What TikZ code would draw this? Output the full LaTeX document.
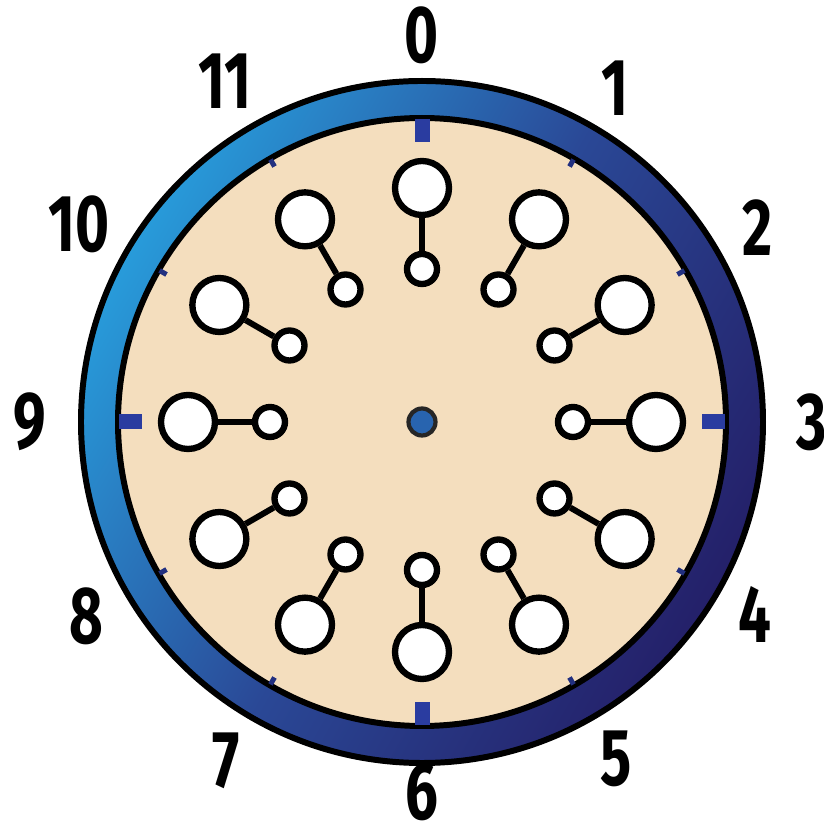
\documentclass[tikz,border=0pt]{standalone}
\usepackage{fontspec}
\newfontfamily\hourfont{Fira Sans}[FakeStretch=0.72]
\usepackage{tikz}
\usetikzlibrary{positioning, calc}

\definecolor{faceBeige}{RGB}{244,222,190}
\definecolor{ringLight}{RGB}{40,155,218}
\definecolor{ringMid}{RGB}{42,72,150}
\definecolor{ringDark}{RGB}{36,32,105}
\definecolor{tickBlue}{RGB}{42,60,160}
\definecolor{hubBlue}{RGB}{40,100,175}

\begin{document}
\begin{tikzpicture}[
    edge/.style={line width=1.7pt, black},
    bigpin/.style={circle, draw, fill=white, line width=1.8pt, inner sep=0pt, minimum size=0.54cm},
    smallpin/.style={circle, draw, fill=white, line width=1.8pt, inner sep=0pt, minimum size=0.30cm},
    hub/.style={circle, draw=black!85, fill=hubBlue, line width=1.2pt, inner sep=0pt, minimum size=0.27cm},
    hour/.style={font=\hourfont\bfseries\fontsize{23}{23}\selectfont, inner sep=0pt},
    majortick/.style={tickBlue, line width=0.15cm},
    minortick/.style={tickBlue!80!black, line width=0.05cm}
]
\useasboundingbox (-4.22,-4.10) rectangle (4.02,4.22);

% --- Dial ---
\path[fill=faceBeige] (0,0) circle (3.04);
\path[even odd rule, top color=ringLight, bottom color=ringDark, middle color=ringMid, shading angle=60]
    (0,0) circle (3.41) (0,0) circle (3.04);
\draw[edge] (0,0) circle (3.41);
\draw[edge] (0,0) circle (3.04);

% Ticks
\draw[majortick] (90:3.03) -- (90:2.80);
\draw[majortick] (0:3.03) -- (0:2.80);
\draw[majortick] (-90:3.03) -- (-90:2.80);
\draw[majortick] (180:3.03) -- (180:2.80);
\draw[minortick] (60:3.03) -- (60:2.95);
\draw[minortick] (30:3.03) -- (30:2.95);
\draw[minortick] (-30:3.03) -- (-30:2.95);
\draw[minortick] (-60:3.03) -- (-60:2.95);
\draw[minortick] (-120:3.03) -- (-120:2.95);
\draw[minortick] (-150:3.03) -- (-150:2.95);
\draw[minortick] (150:3.03) -- (150:2.95);
\draw[minortick] (120:3.03) -- (120:2.95);

% Hub
\node[hub] (hub) at (0,0) {};

% Pins
\node[bigpin] (big0) at (90:2.34) {};
\node[bigpin] (big1) at (60:2.34) {};
\node[bigpin] (big2) at (30:2.34) {};
\node[bigpin] (big3) at (0:2.34) {};
\node[bigpin] (big4) at (-30:2.34) {};
\node[bigpin] (big5) at (-60:2.34) {};
\node[bigpin] (big6) at (-90:2.30) {};
\node[bigpin] (big7) at (-120:2.34) {};
\node[bigpin] (big8) at (-150:2.34) {};
\node[bigpin] (big9) at (180:2.34) {};
\node[bigpin] (big10) at (150:2.34) {};
\node[bigpin] (big11) at (120:2.34) {};

\node[smallpin] (small0) at (90:1.53) {};
\node[smallpin] (small1) at (60:1.53) {};
\node[smallpin] (small2) at (30:1.53) {};
\node[smallpin] (small3) at (0:1.51) {};
\node[smallpin] (small4) at (-30:1.53) {};
\node[smallpin] (small5) at (-60:1.53) {};
\node[smallpin] (small6) at (-90:1.48) {};
\node[smallpin] (small7) at (-120:1.53) {};
\node[smallpin] (small8) at (-150:1.53) {};
\node[smallpin] (small9) at (180:1.52) {};
\node[smallpin] (small10) at (150:1.53) {};
\node[smallpin] (small11) at (120:1.53) {};

% Stems
\draw[edge] (big0) -- (small0);
\draw[edge] (big1) -- (small1);
\draw[edge] (big2) -- (small2);
\draw[edge] (big3) -- (small3);
\draw[edge] (big4) -- (small4);
\draw[edge] (big5) -- (small5);
\draw[edge] (big6) -- (small6);
\draw[edge] (big7) -- (small7);
\draw[edge] (big8) -- (small8);
\draw[edge] (big9) -- (small9);
\draw[edge] (big10) -- (small10);
\draw[edge] (big11) -- (small11);

% Hour labels
\node[hour] (h0) at (90:3.87) {0};
\node[hour] (h1) at (60:3.85) {1};
\node[hour] (h2) at (30:3.88) {2};
\node[hour] (h3) at (0:3.90) {3};
\node[hour] (h4) at (-30:3.84) {4};
\node[hour] (h5) at (-60:3.89) {5};
\node[hour] (h6) at (-90:3.70) {6};
\node[hour] (h7) at (-120:3.91) {7};
\node[hour] (h8) at (-150:3.88) {8};
\node[hour] (h9) at (180:3.92) {9};
\node[hour] (h10) at (150:3.96) {10};
\node[hour] (h11) at (120:3.94) {11};

\end{tikzpicture}
\end{document}
